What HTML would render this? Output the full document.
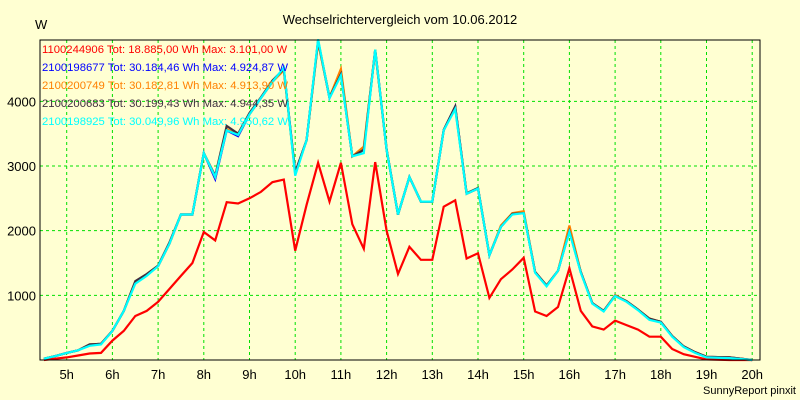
<!DOCTYPE html>
<html><head><meta charset="utf-8"><style>
body{margin:0;background:#FFFFD2;}
svg{display:block;font-family:"Liberation Sans",sans-serif;}
</style></head><body>
<svg id="chart" width="800" height="400">
<rect x="0" y="0" width="800" height="400" fill="#FFFFD2"/>
<text x="400" y="24" font-size="13" text-anchor="middle">Wechselrichtervergleich vom 10.06.2012</text>
<text x="35" y="29" font-size="13">W</text>
<text x="796" y="394" font-size="11" text-anchor="end">SunnyReport pinxit</text>
<g id="grid"></g><g id="series"></g><g id="axes"></g><g id="legend"></g>
</svg>
<script>
const times=[4.5,4.75,5,5.25,5.5,5.75,6,6.25,6.5,6.75,7,7.25,7.5,7.75,8,8.25,8.5,8.75,9,9.25,9.5,9.75,10,10.25,10.5,10.75,11,11.25,11.5,11.75,12,12.25,12.5,12.75,13,13.25,13.5,13.75,14,14.25,14.5,14.75,15,15.25,15.5,15.75,16,16.25,16.5,16.75,17,17.25,17.5,17.75,18,18.25,18.5,18.75,19,19.5,20];
const red=[0,20,40,70,100,110,300,450,680,760,900,1100,1300,1500,1980,1850,2440,2420,2500,2600,2750,2790,1690,2400,3050,2450,3050,2100,1720,3060,2000,1330,1750,1550,1550,2370,2470,1570,1650,960,1250,1400,1580,750,680,820,1420,760,520,470,610,540,470,360,360,170,90,50,10,0,0];
const blue=[20,60,110,150,240,250,450,760,1200,1320,1450,1800,2250,2250,3200,2800,3550,3460,3800,4050,4300,4500,2900,3400,4930,4050,4420,3150,3250,4790,3250,2250,2830,2450,2450,3550,3920,2570,2650,1620,2060,2260,2280,1360,1150,1380,2000,1360,880,760,1000,910,780,630,590,370,210,120,50,40,0];
const orange=[20,60,110,150,240,250,450,760,1200,1320,1450,1800,2250,2250,3200,2830,3570,3480,3800,4050,4300,4480,2880,3400,4910,4060,4500,3150,3300,4780,3250,2250,2830,2450,2450,3550,3900,2570,2650,1620,2080,2270,2300,1360,1150,1380,2080,1360,880,760,1000,910,780,640,590,370,210,120,50,40,0];
const dark=[20,60,110,150,240,250,450,760,1220,1330,1460,1820,2250,2250,3200,2850,3620,3500,3820,4060,4320,4500,2900,3400,4940,4060,4420,3150,3250,4800,3260,2250,2830,2450,2450,3560,3920,2580,2660,1620,2060,2260,2270,1360,1150,1380,1990,1360,880,760,990,910,780,640,590,370,210,120,50,40,0];
const cyan=[20,60,110,150,220,240,450,760,1180,1300,1450,1800,2250,2250,3200,2830,3550,3480,3800,4050,4300,4520,2850,3400,4960,4050,4400,3150,3200,4800,3250,2250,2830,2450,2450,3550,3880,2570,2650,1620,2060,2250,2270,1350,1140,1380,1980,1350,870,750,990,900,770,620,580,360,200,110,40,30,0];
const seriesNames=["1100244906","2100198677","2100200749","2100200683","2100198925"];
const legendTexts=["1100244906 Tot: 18.885,00 Wh Max: 3.101,00 W","2100198677 Tot: 30.184,46 Wh Max: 4.924,87 W","2100200749 Tot: 30.182,81 Wh Max: 4.913,90 W","2100200683 Tot: 30.199,43 Wh Max: 4.944,35 W","2100198925 Tot: 30.049,96 Wh Max: 4.950,62 W"];
const xTicks=[5,6,7,8,9,10,11,12,13,14,15,16,17,18,19,20];
const yTicks=[1000,2000,3000,4000];
const colors=["#ff0000","#0000ff","#ff8000","#403040","#00ffff"];
const L=40,R=760,T=40,B=360;
const x=t=>66.7+(t-5)*45.7;
const y=v=>360-v*0.06467;
const NS="http://www.w3.org/2000/svg";
function mk(tag,attrs,parent){const e=document.createElementNS(NS,tag);for(const k in attrs)e.setAttribute(k,attrs[k]);parent.appendChild(e);return e;}
const grid=document.getElementById('grid'),axes=document.getElementById('axes'),ser=document.getElementById('series'),leg=document.getElementById('legend');
xTicks.forEach(h=>{
  const l=mk('line',{x1:x(h),x2:x(h),y1:T,y2:B,stroke:'#00e000','stroke-dasharray':'3,3'},grid);
  
  
  const t=mk('text',{x:x(h),y:379,'font-size':13,'text-anchor':'middle'},axes);
  t.textContent=h+'h';
  
  
});
yTicks.forEach(v=>{
  const l=mk('line',{x1:L,x2:R,y1:y(v),y2:y(v),stroke:'#00e000','stroke-dasharray':'3,3'},grid);
  
  
  const t=mk('text',{x:36,y:y(v)+5,'font-size':13,'text-anchor':'end'},axes);
  t.textContent=v;
  
  
});
const frame=mk('path',{d:`M${L},${T}H${R}V${B}H${L}Z`,fill:'none',stroke:'#000','stroke-width':1},axes);


[red,blue,orange,dark,cyan].forEach((arr,i)=>{
  const pts=arr.map((v,j)=>x(times[j]).toFixed(1)+','+y(v).toFixed(1)).join(' ');
  const p=mk('polyline',{points:pts,fill:'none',stroke:colors[i],'stroke-width':2.2,'stroke-linejoin':'miter'},ser);
  
  
});
legendTexts.forEach((s,i)=>{
  const t=mk('text',{x:42,y:53+i*18,'font-size':11.3,fill:colors[i]},leg);
  t.textContent=s;
  
  
});
</script>
</body></html>
